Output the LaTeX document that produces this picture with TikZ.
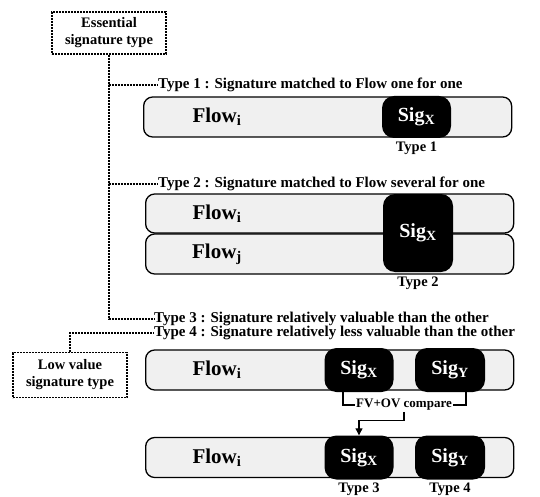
\documentclass[tikz,border=0pt]{standalone}
\usepackage{fontspec}
\setmainfont{Liberation Serif}
\usetikzlibrary{positioning,arrows.meta}

\begin{document}
\begin{tikzpicture}[x=1pt, y=-1pt, every node/.style={font=\bfseries}]
		% Styles
		\tikzset{
			groupbox/.style={draw, line width=1.8pt, dash pattern=on 2pt off 1pt, align=center,
				minimum width=114pt, inner sep=0pt, font=\bfseries\fontsize{14.5}{17}\selectfont},
			link/.style={line width=1.5pt, dash pattern=on 2pt off 1pt},
			typetext/.style={anchor=west, inner sep=0pt, font=\bfseries\fontsize{15}{17}\selectfont},
			flowbar/.style={draw, line width=1.3pt, rounded corners=9pt, fill=black!6,
				minimum width=368pt, inner sep=0pt},
			sigbox/.style={fill=black, text=white, rounded corners=12pt, minimum width=69pt,
				inner sep=0pt, font=\bfseries\fontsize{20}{22}\selectfont},
			flowtext/.style={font=\bfseries\fontsize{21}{23}\selectfont},
			caption/.style={font=\bfseries\fontsize{14.5}{16}\selectfont}
		}
		
		% Fix the page size
		\useasboundingbox (0,0) rectangle (540,497);
		
		% Define the left end of the bars
		\def\barx{145}
		
		% Draw the group boxes
		\node[groupbox, minimum height=42pt] (ess) at (109,33) {Essential\\signature type};
		\node[groupbox, minimum height=45pt] (low) at (70,375) {Low value\\signature type};
		
		% Add the type texts
		\node[typetext] (t1) at (158,85) {Type 1 : Signature matched to Flow one for one};
		\node[typetext] (t2) at (158,184) {Type 2 : Signature matched to Flow several for one};
		\node[typetext] (t3) at (154,319) {Type 3 : Signature relatively valuable than the other};
		\node[typetext] (t4) at (154,333) {Type 4 : Signature relatively less valuable than the other};
		
		% Connect the groups to the types
		\draw[link] (ess.south) |- (t1.west);
		\draw[link] (ess.south) |- (t2.west);
		\draw[link] (ess.south) |- (t3.west);
		\draw[link] (low.north) |- (t4.west);
		
		% Type 1
		\node[flowbar, minimum height=40pt, anchor=west] (b1) at (\barx-2,117) {};
		\node[flowtext] (f1) at (217,117) {Flow\textsubscript{i}};
		\node[sigbox, minimum height=42pt] (s1) at (416.5,117) {Sig\textsubscript{X}};
		\node[caption] (c1) at (416.5,148) {Type 1};
		
		% Type 2
		\node[flowbar, minimum height=39pt, anchor=west] (b2i) at (\barx,213.5) {};
		\node[flowbar, minimum height=40pt, anchor=west] (b2j) at (\barx,254) {};
		\node[flowtext] (f2i) at (217,213.5) {Flow\textsubscript{i}};
		\node[flowtext] (f2j) at (217,254) {Flow\textsubscript{j}};
		\node[sigbox, minimum width=70pt, minimum height=78pt] (s2) at (418,233) {Sig\textsubscript{X}};
		\node[caption] (c2) at (418,283) {Type 2};
		
		% Type 3 and 4, before and after the compare
		\foreach \y/\n in {370/a, 457.5/b} {
				\node[flowbar, minimum height=40pt, anchor=west] (b\n) at (\barx,\y) {};
				\node[flowtext] (f\n) at (217,\y) {Flow\textsubscript{i}};
				\node[sigbox, minimum height=44pt] (sx\n) at (359,\y) {Sig\textsubscript{X}};
				\node[sigbox, minimum width=70pt, minimum height=44pt] (sy\n) at (450,\y) {Sig\textsubscript{Y}};
			}
		\node[caption] (c3) at (359,489) {Type 3};
		\node[caption] (c4) at (450,489) {Type 4};
		
		% Compare the two signatures
		\node[caption, inner sep=1pt, font=\bfseries\fontsize{13}{15}\selectfont] (cmp) at (404,405) {FV+OV compare};
		\draw[line width=1.1pt] ([xshift=-16pt]sxa.south) |- (cmp.west);
		\draw[line width=1.1pt] (cmp.east) -| ([xshift=16pt]sya.south);
		\draw[line width=1.1pt, -{Triangle[length=7pt, width=7pt]}] (cmp.south) -- ++(0,9) -| (sxb.north);
		
	\end{tikzpicture}
\end{document}
